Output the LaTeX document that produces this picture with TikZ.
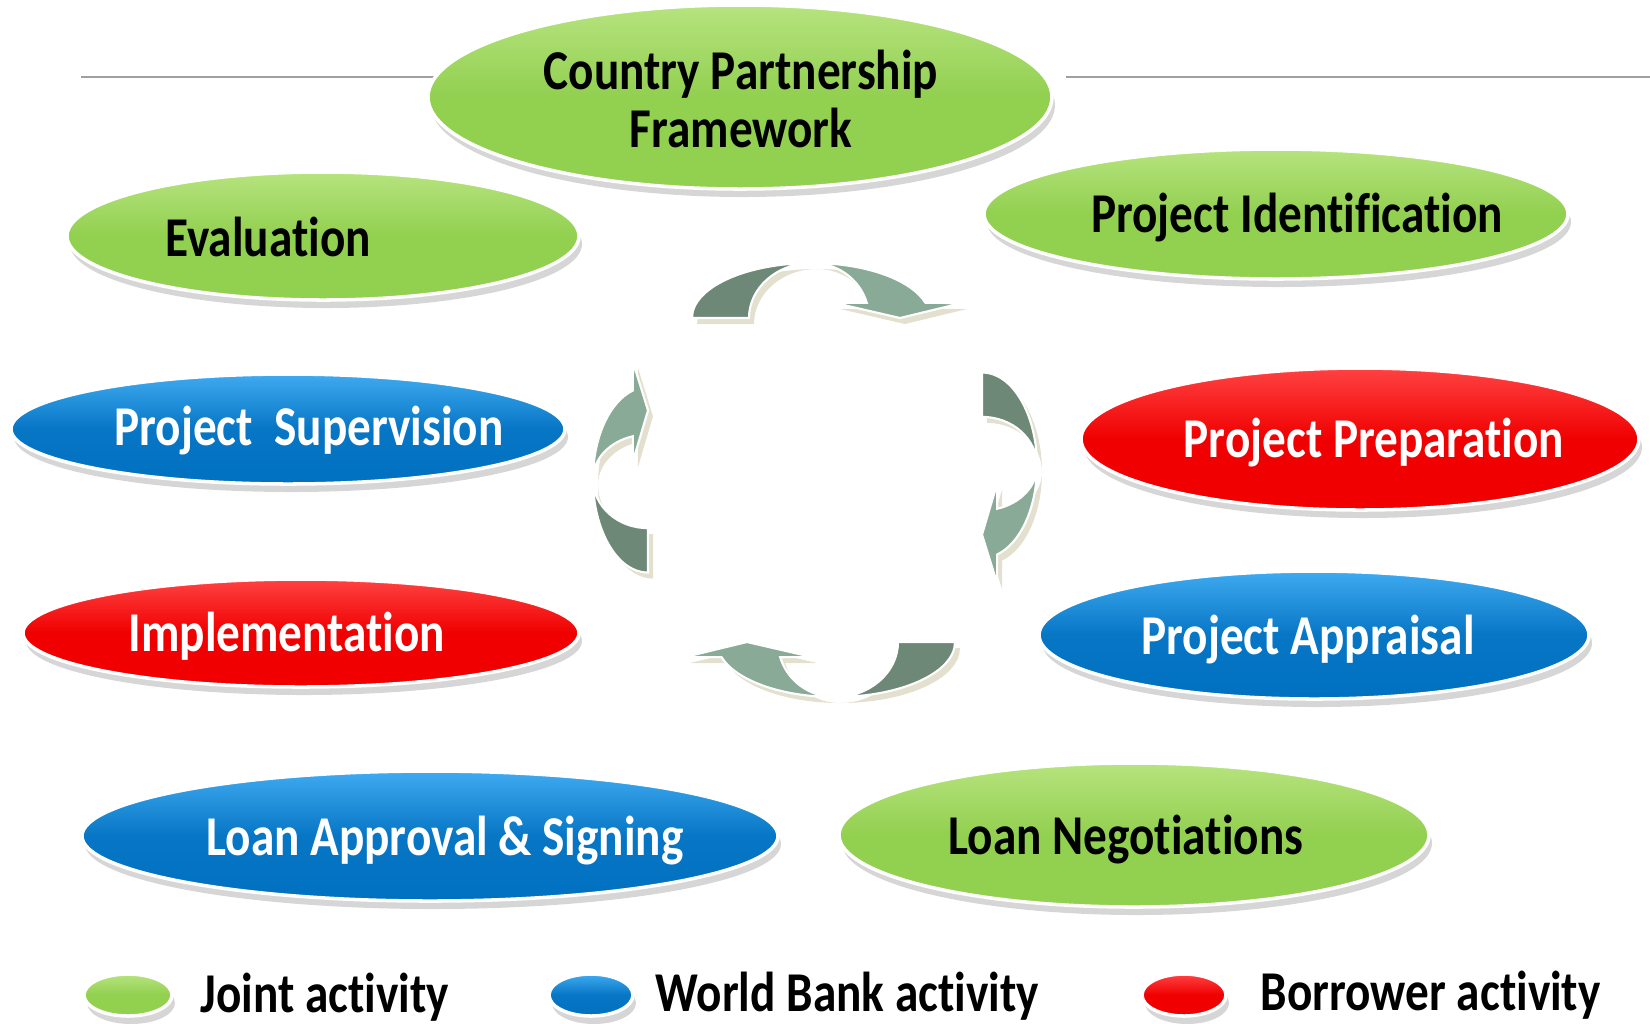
\documentclass[tikz,border=0pt]{standalone}
\usepackage{fontspec}
\setmainfont{Carlito}[FakeStretch=0.84,Ligatures={NoCommon}]
\usetikzlibrary{shapes.geometric,shadows}

\definecolor{jointtop}{HTML}{B6E37E}
\definecolor{jointcol}{HTML}{92D050}
\definecolor{banktop}{HTML}{3FAAF0}
\definecolor{bankcol}{HTML}{0070C0}
\definecolor{borrtop}{HTML}{FF4242}
\definecolor{borrcol}{HTML}{F00000}
\definecolor{arrowdark}{HTML}{6E8878}
\definecolor{arrowlight}{HTML}{8AAA98}
\definecolor{arrowshade}{HTML}{E3E0D0}

\tikzset{
  stage/.style={ellipse,inner sep=0pt,draw=white,line width=1pt,
    drop shadow={shadow xshift=0.3mm,shadow yshift=-0.8mm,fill=black!40,opacity=0.4}},
  joint/.style={stage,top color=jointtop,bottom color=jointcol,middle color=jointcol},
  bank/.style={stage,top color=banktop,bottom color=bankcol,middle color=bankcol!90!banktop},
  borrower/.style={stage,top color=borrtop,bottom color=borrcol,middle color=borrcol},
  lbl/.style={font=\bfseries\fontsize{16}{16.5}\selectfont,inner sep=0pt,
    text height=0.64em,text depth=0pt},
}

% one bent arrow of the cycle: along x, bulging to +y
\newcommand{\arrowback}{(-120,0) arc[start angle=180,end angle=90,x radius=120,y radius=55]
  arc[start angle=90,end angle=180,x radius=63,y radius=55] -- cycle}
\newcommand{\arrowfront}{(0,55) arc[start angle=90,end angle=16,x radius=118,y radius=55]
  -- (150,15) -- (88,0) -- (23,15) -- (54.8,15.2)
  arc[start angle=16,end angle=90,x radius=57,y radius=55] -- cycle}
\newcommand{\cyclearrow}[3]{% centre, rotation, stretch along the arrow
  \begin{scope}[shift={(5,-6)}]
    \begin{scope}[shift={#1},rotate=#2,xscale=#3]
      \fill[arrowshade] \arrowback;
      \fill[arrowshade] \arrowfront;
    \end{scope}
  \end{scope}
  \begin{scope}[shift={#1},rotate=#2,xscale=#3]
    \filldraw[fill=arrowdark,draw=white,line width=0.6pt] \arrowback;
    \filldraw[fill=arrowlight,draw=white,line width=0.6pt] \arrowfront;
  \end{scope}}

\begin{document}
\begin{tikzpicture}[x=0.1mm,y=0.1mm]
  \useasboundingbox (0,0) rectangle (1650,-1023);
  \draw[gray!75,line width=0.6pt] (81,-77) -- (440,-77) (1066,-77) -- (1650,-77); % rule behind the top ellipse

  % the cycle in the middle
  \cyclearrow{(812,-318)}{0}{1}
  \cyclearrow{(982,-466)}{-90}{0.78}
  \cyclearrow{(835,-642)}{180}{1}
  \cyclearrow{(648,-479)}{90}{0.78}

  % stages
  \node[joint,minimum width=62.4mm,minimum height=18.4mm] (cpf) at (740,-97) {};
  \node[font=\bfseries\fontsize{16}{16.5}\selectfont,align=center,inner sep=0pt] (cpftext) at (741,-99) {Country Partnership\\Framework};
  \node[joint,minimum width=51.2mm,minimum height=12.8mm] (eval) at (323,-236) {};
  \node[lbl] (evaltext) at (268,-245) {Evaluation};
  \node[joint,minimum width=58.4mm,minimum height=13mm] (ident) at (1276,-214) {};
  \node[lbl] (identtext) at (1297,-221) {Project Identification};
  \node[bank,minimum width=55.4mm,minimum height=11mm] (superv) at (288,-429) {};
  \node[lbl,white] (supervtext) at (309,-434) {Project\ \ Supervision};
  \node[borrower,minimum width=55.8mm,minimum height=14.2mm] (prep) at (1360,-439) {};
  \node[lbl,white] (preptext) at (1374,-446) {Project Preparation};
  \node[borrower,minimum width=55.6mm,minimum height=10.8mm] (impl) at (301,-633) {};
  \node[lbl,white] (impltext) at (287,-640) {Implementation};
  \node[bank,minimum width=55mm,minimum height=12.8mm] (appr) at (1314,-635) {};
  \node[lbl,white] (apprtext) at (1308,-643) {Project Appraisal};
  \node[bank,minimum width=69.6mm,minimum height=13mm] (sign) at (430,-836) {};
  \node[lbl,white] (signtext) at (445,-844) {Loan Approval \& Signing};
  \node[joint,minimum width=59mm,minimum height=14.4mm] (negot) at (1134,-835) {};
  \node[lbl] (negottext) at (1126,-843) {Loan Negotiations};

  % legend
  \node[joint,minimum width=8.8mm,minimum height=4.2mm] (keyjoint) at (128,-995) {};
  \node[lbl,anchor=west] (keyjointtext) at (200,-1001) {Joint activity};
  \node[bank,minimum width=8.4mm,minimum height=4.2mm] (keybank) at (591,-995) {};
  \node[lbl,anchor=west] (keybanktext) at (655,-1000) {World Bank activity};
  \node[borrower,minimum width=8.4mm,minimum height=4.2mm] (keyborr) at (1184,-995) {};
  \node[lbl,anchor=west] (keyborrtext) at (1260,-999) {Borrower activity};
\end{tikzpicture}
\end{document}
